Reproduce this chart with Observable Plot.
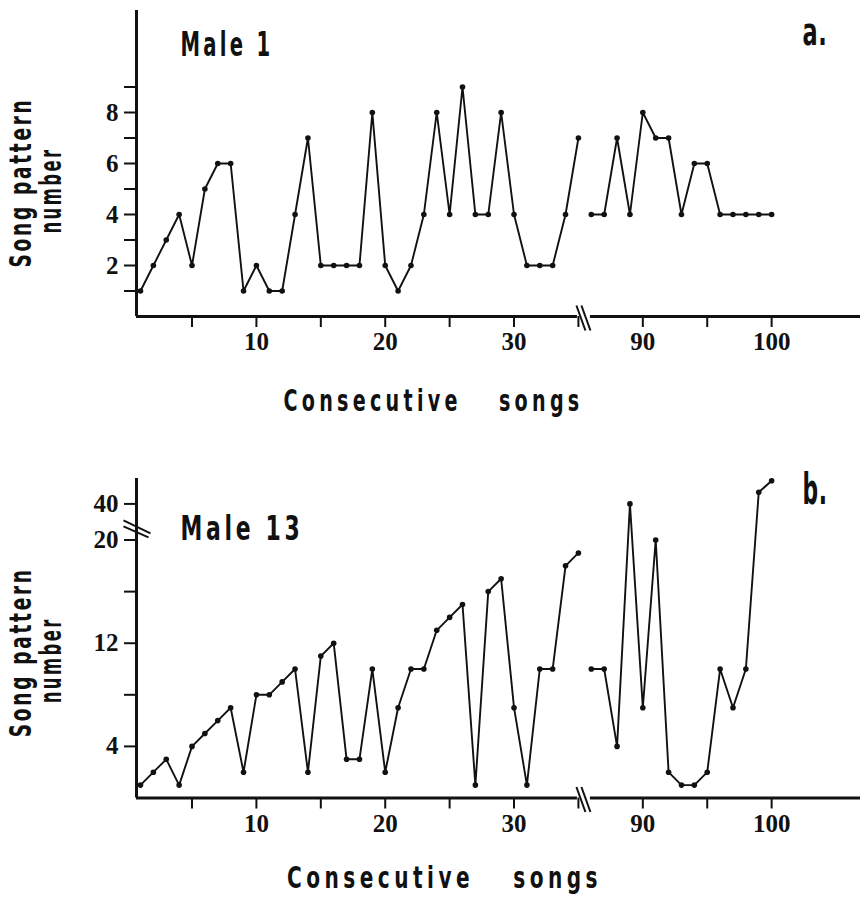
<!DOCTYPE html>
<html>
<head>
<meta charset="utf-8">
<script src="https://cdn.jsdelivr.net/npm/d3@7"></script>
<script src="https://cdn.jsdelivr.net/npm/@observablehq/plot@0.6"></script>
<style>
  html, body { margin: 0; padding: 0; background: #fff; }
  #chart { width: 866px; }
  #chart svg { display: block; }
</style>
</head>
<body>
<div id="chart"></div>
<script>
// ---- data ----
const songsEarly = [1,2,3,4,5,6,7,8,9,10,11,12,13,14,15,16,17,18,19,20,21,22,23,24,25,26,27,28,29,30,31,32,33,34,35];
const songsLate = [86,87,88,89,90,91,92,93,94,95,96,97,98,99,100];

const male1Early = [1,2,3,4,2,5,6,6,1,2,1,1,4,7,2,2,2,2,8,2,1,2,4,8,4,9,4,4,8,4,2,2,2,4,7];
const male1Late  = [4,4,7,4,8,7,7,4,6,6,4,4,4,4,4];

const male13Early = [1,2,3,1,4,5,6,7,2,8,8,9,10,2,11,12,3,3,10,2,7,10,10,13,14,15,1,16,17,7,1,10,10,18,19];
const male13Late  = [10,10,4,40,7,20,2,1,1,2,10,7,10,41,42];

const xTickSongs  = [5,10,15,20,25,30,35,90,95,100];
const xTickLabels = [10,20,30,90,100];

const yTicksA  = [1,2,3,4,5,6,7,8,9];
const yLabelsA = [2,4,6,8];
const yTicksB  = [4,8,12,16,20,40];
const yLabelsB = [4,12,20,40];

const xTitle = "Consecutive\u2003\u2002songs";
const yTitle1 = "Song pattern";
const yTitle2 = "number";

// ---- helpers ----
// broken x axis: songs 86..100 follow right after song 35
const pos = s => (s > 50 ? s - 50 : s);
// broken y axis for male 13: 40 and above drawn just above 20
const yMapA = v => v;
const yMapB = v => (v > 20 ? 22.8 + (v - 40) * 0.9 : v);

function rows(early, late) {
  return songsEarly.map((s, i) => ({song: s, value: early[i], seg: "early"}))
    .concat(songsLate.map((s, i) => ({song: s, value: late[i], seg: "late"})));
}

const titleFont = "'Liberation Sans Narrow', 'DejaVu Sans Condensed', 'DejaVu Sans', sans-serif";
const X0 = 0.69, X1 = 56.9, PX_X = 12.878;

function panel(o) {
  const H = 452;
  const pxY = (H - o.marginTop - o.marginBottom) / (o.yDomain[1] - o.yDomain[0]);
  const uy = px => px / pxY;
  const ux = px => px / PX_X;
  const data = rows(o.early, o.late);
  const xLab = new Map(xTickSongs.map(s => [pos(s), xTickLabels.includes(s) ? String(s) : ""]));
  const yLab = new Map(o.yTicks.map(v => [o.yMap(v), o.yLabels.includes(v) ? String(v) : ""]));
  const tf = {fontFamily: titleFont, fontWeight: "bold", fill: "#111"};

  const xb = pos(35) + ux(3);   // break position along x
  const xBreak = [
    {x1: xb - ux(5), y1: uy(11), x2: xb + ux(4), y2: -uy(14)},
    {x1: xb + ux(0), y1: uy(11), x2: xb + ux(9), y2: -uy(14)}
  ];
  const axisSegs = [
    {x1: X0, x2: xb - ux(4)},
    {x1: xb + ux(9), x2: X1}
  ];

  const marks = [
    Plot.ruleY(axisSegs, {y: () => 0, x1: "x1", x2: "x2", stroke: "#111", strokeWidth: 3}),
    Plot.ruleX([X0], {stroke: "#111", strokeWidth: 3}),
    Plot.link(xBreak, {x1: "x1", y1: "y1", x2: "x2", y2: "y2", stroke: "#111", strokeWidth: 2}),
    Plot.line(data, {x: d => pos(d.song), y: d => o.yMap(d.value), z: "seg", stroke: "#111", strokeWidth: 1.9}),
    Plot.dot(data, {x: d => pos(d.song), y: d => o.yMap(d.value), r: 2.8, fill: "#111", stroke: "none"}),
    Plot.text([o.title], {frameAnchor: "top-left", textAnchor: "start", lineAnchor: "top", dx: 44, dy: o.titleDy, fontSize: 33, ...tf}),
    Plot.text([o.letter], {frameAnchor: "top-right", textAnchor: "end", lineAnchor: "top", dx: -33, dy: o.letterDy, fontSize: o.letterSize, ...tf}),
    Plot.text([xTitle], {frameAnchor: "bottom", textAnchor: "middle", lineAnchor: "bottom", dx: o.xTitleDx, dy: o.xTitleDy, fontSize: 30, ...tf}),
    Plot.text([yTitle1], {frameAnchor: "left", textAnchor: "middle", lineAnchor: "middle", rotate: -90, dx: -115, dy: o.yT1Dy, fontSize: 30, ...tf}),
    Plot.text([yTitle2], {frameAnchor: "left", textAnchor: "middle", lineAnchor: "middle", rotate: -90, dx: -85, dy: o.yT2Dy, fontSize: 30, ...tf})
  ];
  if (o.yBreak) {
    const yb = o.yBreak;
    marks.push(Plot.link([
      {x1: X0 - ux(13), y1: yb + uy(8), x2: X0 + ux(14), y2: yb - uy(5)},
      {x1: X0 - ux(13), y1: yb + uy(2), x2: X0 + ux(12), y2: yb - uy(9)}
    ], {x1: "x1", y1: "y1", x2: "x2", y2: "y2", stroke: "#111", strokeWidth: 2}));
  }

  const svg = Plot.plot({
    width: 866, height: H,
    marginLeft: 136, marginRight: 6, marginTop: o.marginTop, marginBottom: o.marginBottom,
    style: {fontFamily: "'Liberation Serif', 'DejaVu Serif', serif", fontSize: "25px", fontWeight: "bold", color: "#111", background: "#fff", overflow: "visible"},
    x: {domain: [X0, X1], ticks: xTickSongs.map(pos), tickFormat: t => xLab.get(t) ?? "", tickSize: 11, tickPadding: 5, label: null},
    y: {domain: o.yDomain, ticks: o.yTicks.map(o.yMap), tickFormat: t => yLab.get(t) ?? "", tickSize: 12, tickPadding: 6, label: null},
    marks
  });
  const s = d3.select(svg);
  const lengths = new Map([
    [xTitle, [o.xTitleLen, 6]], [yTitle1, [170, 4]], [yTitle2, [86, 4]], [o.title, [o.titleLen, 5]], [o.letter, [25, 1]]
  ]);
  s.selectAll("text").each(function() {
    const L = lengths.get(this.textContent);
    if (L) d3.select(this).style("letter-spacing", L[1] + "px").attr("textLength", L[0]).attr("lengthAdjust", "spacingAndGlyphs");
  });
  s.selectAll("[aria-label$='tick'] path, [aria-label$='tick'] line, g.tick line").attr("stroke-width", 2).style("stroke-width", "2px");
  return svg;
}

const chart = document.getElementById("chart");
chart.append(panel({
  early: male1Early, late: male1Late,
  yDomain: [0, 12], yTicks: yTicksA, yLabels: yLabelsA, yMap: yMapA,
  marginTop: 10, marginBottom: 136,
  title: "Male 1", titleLen: 93, letter: "a.", letterSize: 38,
  titleDy: 22, letterDy: 8, xTitleDx: -65, xTitleDy: 94, xTitleLen: 300, yT1Dy: 19, yT2Dy: 27
}));
chart.append(panel({
  early: male13Early, late: male13Late,
  yDomain: [0, 24.77], yTicks: yTicksB, yLabels: yLabelsB, yMap: yMapB,
  marginTop: 26, marginBottom: 106.5,
  title: "Male 13", titleLen: 123, letter: "b.", letterSize: 42,
  titleDy: 38, letterDy: -4, xTitleDx: -54, xTitleDy: 90, xTitleLen: 315, yT1Dy: 14, yT2Dy: 22,
  yBreak: 20.9
}));
</script>
</body>
</html>
